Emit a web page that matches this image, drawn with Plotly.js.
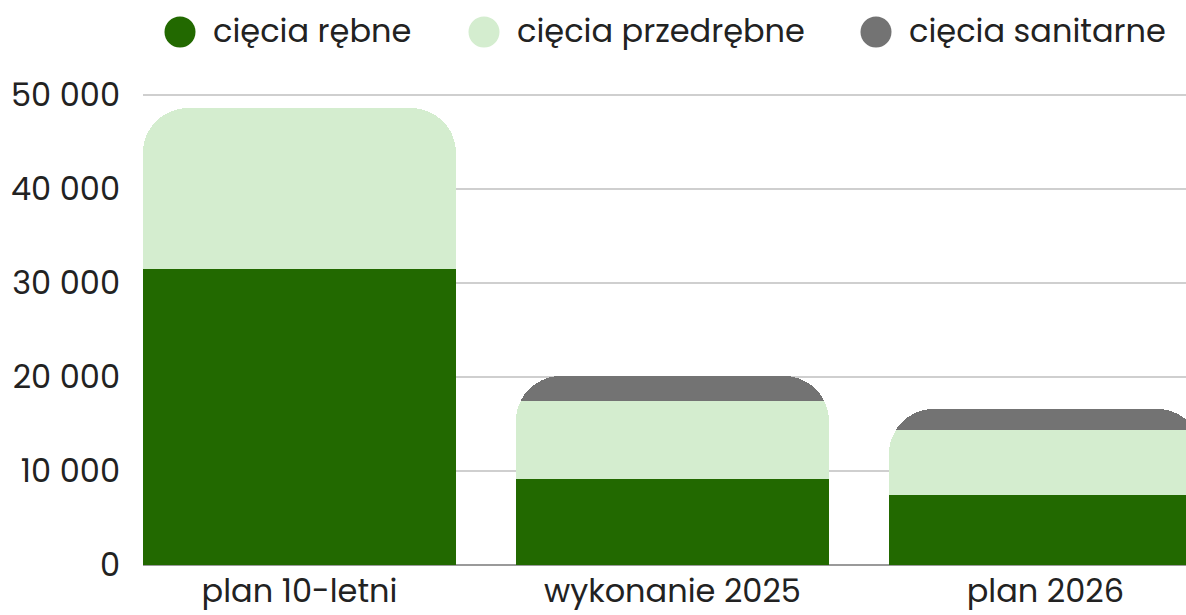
<!DOCTYPE html>
<html>
<head>
<meta charset="utf-8">
<script src="https://cdn.plot.ly/plotly-3.0.1.min.js"></script>
<style>html,body{margin:0;padding:0;background:#fff;}#chart{width:1186px;height:615px;}</style>
</head>
<body>
<div id="chart"></div>
<script>
const categories = ["plan 10-letni", "wykonanie 2025", "plan 2026"];
const seriesNames = ["cięcia rębne", "cięcia przedrębne", "cięcia sanitarne"];
const rebne = [31500, 9200, 7500];
const przedrebne = [17100, 8300, 6900];
const sanitarne = [0, 2600, 2200];
const tickValues = [0, 10000, 20000, 30000, 40000, 50000];
const tickLabels = ["0", "10 000", "20 000", "30 000", "40 000", "50 000"];
const colors = ["#226900", "#d4edcf", "#737373"];

const FONT = "Poppins, 'Open Sans', sans-serif";
const FS = 32;
const W = 1186, H = 615, L = 143, R = 0, T = 70, B = 50;
const plotW = W - L - R, plotH = H - T - B;

const seriesValues = [rebne, przedrebne, sanitarne];
const traces = seriesValues.map((vals, i) => ({
  type: "bar",
  name: seriesNames[i],
  x: categories,
  y: vals,
  marker: {color: colors[i], line: {width: 0}},
  showlegend: false,
  hoverinfo: "x+y+name"
}));

// custom legend (large circles)
const legendPx = [180, 484, 876];
const legendY = 32;
const px2x = p => (p - L) / plotW;
const py2y = p => (H - B - p) / plotH;
const shapes = legendPx.map((cx, i) => ({
  type: "circle", xref: "paper", yref: "paper",
  xsizemode: "pixel", ysizemode: "pixel",
  xanchor: px2x(cx), yanchor: py2y(legendY),
  x0: -15.5, x1: 15.5, y0: -15.5, y1: 15.5,
  fillcolor: colors[i], line: {width: 0}
}));
const annotations = legendPx.map((cx, i) => ({
  xref: "paper", yref: "paper",
  x: px2x(cx + 31), y: py2y(legendY - 1),
  xanchor: "left", yanchor: "middle",
  text: seriesNames[i], showarrow: false,
  font: {family: FONT, size: FS, color: "#222"}
}));

const layout = {
  width: W, height: H,
  margin: {l: L, r: R, t: T, b: B},
  paper_bgcolor: "#fff", plot_bgcolor: "#fff",
  barmode: "stack",
  bargap: 0.16,
  barcornerradius: 45,
  showlegend: false,
  font: {family: FONT, color: "#222"},
  xaxis: {
    range: [-0.4196, 2.377],
    tickfont: {family: FONT, size: FS, color: "#222"},
    showgrid: false, zeroline: false,
    showline: false, ticks: "", ticklabelstandoff: 4, fixedrange: true
  },
  yaxis: {
    range: [0, 52660],
    tickvals: tickValues, ticktext: tickLabels,
    tickfont: {family: FONT, size: FS, color: "#222"},
    showgrid: true, gridcolor: "#cfcfcf", gridwidth: 1.3,
    zeroline: true, zerolinecolor: "#9a9a9a", zerolinewidth: 2,
    showline: false, ticks: "", ticklabelstandoff: 22, fixedrange: true
  },
  shapes: shapes,
  annotations: annotations
};

Plotly.newPlot("chart", traces, layout, {displayModeBar: false, staticPlot: true});
</script>
</body>
</html>
